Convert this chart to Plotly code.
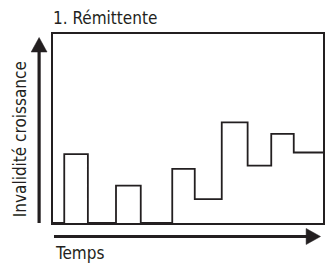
import plotly.graph_objects as go

# Data
time_breaks = [0, 0.5, 1.55, 2.8, 3.9, 5.3, 6.3, 7.5, 8.65, 9.7, 10.7, 12]
invalidite = [0, 36.4, 0, 19.8, 0, 28.6, 12.6, 53.2, 30.4, 47.2, 37.3, 37.3]
title_text = "1. Rémittente"
x_label = "Temps"
y_label = "Invalidité croissance"

FONT = "Liberation Sans Narrow, DejaVu Sans Condensed, sans-serif"
INK = "#231f20"

fig = go.Figure()
fig.add_trace(go.Scatter(
    x=time_breaks, y=invalidite, mode="lines",
    line=dict(shape="hv", color=INK, width=1.8),
    hoverinfo="skip", showlegend=False,
))

W, H = 327, 264
L, R, T, B = 53, 2, 34, 41
pw, ph = W - L - R, H - T - B

def px(x):
    return (x - L) / pw

def py(y):
    return (H - B - y) / ph

shapes = [
    dict(type="line", xref="paper", yref="paper",
         x0=px(39), x1=px(39), y0=py(223), y1=py(49),
         line=dict(color=INK, width=3.2)),
    dict(type="path", xref="paper", yref="paper",
         path=f"M {px(31)},{py(52)} L {px(39)},{py(37.5)} L {px(47)},{py(52)} Z",
         fillcolor=INK, line=dict(color=INK, width=0.5)),
    dict(type="line", xref="paper", yref="paper",
         x0=px(54), x1=px(312), y0=py(236.5), y1=py(236.5),
         line=dict(color=INK, width=3.2)),
    dict(type="path", xref="paper", yref="paper",
         path=f"M {px(308)},{py(228.5)} L {px(322.5)},{py(236.5)} L {px(308)},{py(244.5)} Z",
         fillcolor=INK, line=dict(color=INK, width=0.5)),
]

annotations = [
    dict(text=title_text, xref="paper", yref="paper", x=px(50.5), y=py(17.5),
         xanchor="left", yanchor="middle", showarrow=False,
         font=dict(family=FONT, size=17, color=INK)),
    dict(text=x_label, xref="paper", yref="paper", x=px(53.5), y=py(253),
         xanchor="left", yanchor="middle", showarrow=False,
         font=dict(family=FONT, size=17, color=INK)),
    dict(text=y_label, xref="paper", yref="paper", x=px(20), y=py(139),
         xanchor="center", yanchor="middle", showarrow=False, textangle=-90,
         font=dict(family=FONT, size=17, color=INK)),
]

fig.update_layout(
    width=W, height=H,
    margin=dict(l=L, r=R, t=T, b=B),
    paper_bgcolor="white", plot_bgcolor="white",
    shapes=shapes, annotations=annotations,
    xaxis=dict(range=[0, 12], showgrid=False, zeroline=False, showticklabels=False,
               ticks="", showline=True, linecolor=INK, linewidth=1.8, mirror=True),
    yaxis=dict(range=[0, 100], showgrid=False, zeroline=False, showticklabels=False,
               ticks="", showline=True, linecolor=INK, linewidth=1.8, mirror=True),
)

fig.write_html(
    "out.html",
    config={"displayModeBar": False},
    post_script="document.body.style.margin='0';document.body.style.padding='0';document.body.style.overflow='hidden';",
)
